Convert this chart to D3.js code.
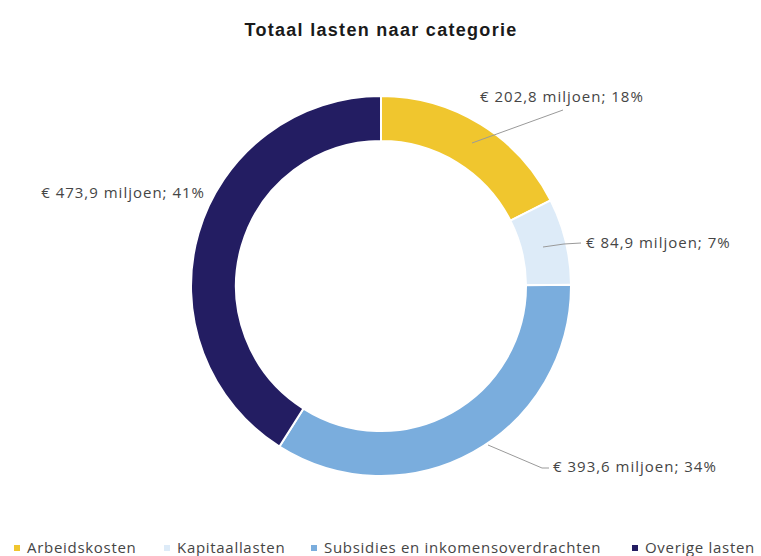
<!DOCTYPE html>
<html><head><meta charset="utf-8">
<script src="https://cdn.jsdelivr.net/npm/d3@7"></script>
<style>body{margin:0;background:#fff;} svg{display:block;}</style>
</head><body>
<script>
const categories = ["Arbeidskosten", "Kapitaallasten", "Subsidies en inkomensoverdrachten", "Overige lasten"];
const values = [202.8, 84.9, 393.6, 473.9];
const labels = ["€ 202,8 miljoen; 18%", "€ 84,9 miljoen; 7%", "€ 393,6 miljoen; 34%", "€ 473,9 miljoen; 41%"];
const colors = ["#F0C62E", "#DDEBF8", "#7AADDD", "#231D62"];
const title = "Totaal lasten naar categorie";

const W = 761, H = 556;
const svg = d3.select("body").append("svg").attr("width", W).attr("height", H);
const cx = 381, cy = 286, R = 190, r = 145;
const font = "'Open Sans', 'Noto Sans', sans-serif";

svg.append("text").attr("x", cx).attr("y", 36).attr("text-anchor", "middle")
  .attr("font-family", "'Liberation Sans', Arial, sans-serif").attr("font-weight", "bold")
  .attr("font-size", 18).attr("letter-spacing", 1.3).attr("fill", "#1a1a1a").text(title);

const pie = d3.pie().sort(null).value(d => d)(values);
const arc = d3.arc().innerRadius(r).outerRadius(R);
const g = svg.append("g").attr("transform", `translate(${cx},${cy})`);
g.selectAll("path").data(pie).join("path")
  .attr("d", arc).attr("fill", (d, i) => colors[i])
  .attr("stroke", "#fff").attr("stroke-width", 2);

// label positions (relative to centre) and leader line anchors
const labelPos = [
  {x: 99, y: -189, anchor: "start", line: [[91, -143], [182, -176]]},
  {x: 205, y: -43, anchor: "start", line: [[162, -39], [183, -42], [200, -43]]},
  {x: 172, y: 181, anchor: "start", line: [[107, 159], [161, 182], [168, 182]]},
  {x: -176, y: -93, anchor: "end", line: null}
];
labelPos.forEach((p, i) => {
  if (p.line) {
    g.append("path").attr("d", d3.line()(p.line)).attr("fill", "none")
      .attr("stroke", "#9a9a9a").attr("stroke-width", 1);
  }
  g.append("text").attr("x", p.x).attr("y", p.y).attr("dy", "0.35em")
    .attr("text-anchor", p.anchor).attr("font-family", font).attr("font-size", 15)
    .attr("letter-spacing", 1.0).attr("fill", "#454545").text(labels[i]);
});

// legend
const legendX = [14, 164, 311, 632];
const lg = svg.append("g");
categories.forEach((c, i) => {
  lg.append("rect").attr("x", legendX[i]).attr("y", 545).attr("width", 6).attr("height", 6).attr("fill", colors[i]);
  lg.append("text").attr("x", legendX[i] + 13).attr("y", 548).attr("dy", "0.35em")
    .attr("font-family", font).attr("font-size", 15).attr("letter-spacing", 0.7)
    .attr("fill", "#454545").text(c);
});
</script>
</body></html>
